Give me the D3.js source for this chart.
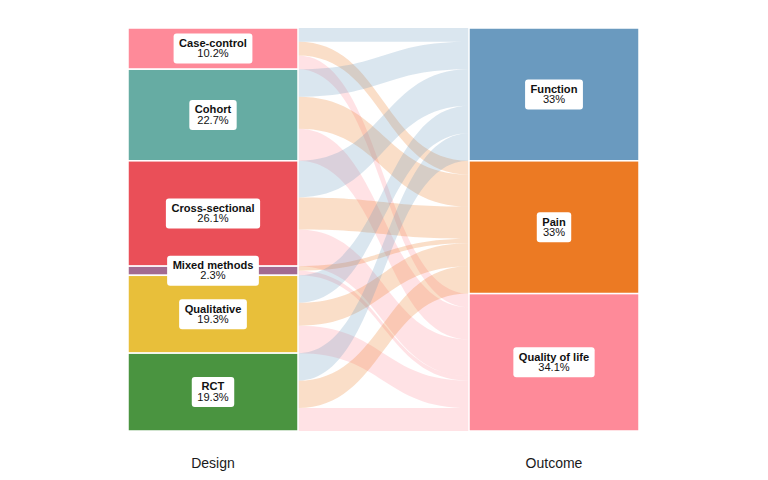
<!DOCTYPE html>
<html>
<head>
<meta charset="utf-8">
<script src="https://cdn.jsdelivr.net/npm/d3@7"></script>
<style>
  body { margin: 0; background: #fff; }
  text { font-family: "Liberation Sans", Arial, Helvetica, sans-serif; }
</style>
</head>
<body>
<div id="chart"></div>
<script>
// axes of the alluvium
var axisNames = ["Design", "Outcome"]
// strata on the left axis
var designs = ["Case-control", "Cohort", "Cross-sectional", "Mixed methods", "Qualitative", "RCT"]
// strata on the right axis
var outcomes = ["Function", "Pain", "Quality of life"]
// number of studies: rows = design, columns = outcome
var countsFunction = [3, 6, 8, 0, 6, 6]
var countsPain     = [3, 7, 7, 1, 5, 6]
var countsQol      = [3, 7, 8, 1, 6, 5]

var designColors  = ["#fe8a99", "#66aca3", "#ea4f58", "#a26a91", "#e8bf3a", "#4a9440"]
var outcomeColors = ["#6a9abf", "#ec7a23", "#fe8a99"]

var W = 768, H = 480
var margin = { top: 28, bottom: 49 }

var svg = d3.select("#chart").append("svg")
    .attr("width", W)
    .attr("height", H)

// build flow table from the arrays
var seriesCounts = [countsFunction, countsPain, countsQol]
var flows = []
designs.forEach(function (d, i) {
    outcomes.forEach(function (o, j) {
        flows.push({ design: d, di: i, outcome: o, oi: j, n: seriesCounts[j][i] })
    })
})
var total = d3.sum(flows, function (f) { return f.n })

var x = d3.scalePoint()
    .domain(axisNames)
    .range([213, 554])
var half = 85

var y = d3.scaleLinear()
    .domain([0, total])
    .range([margin.top, H - margin.bottom])

// left side: design strata, flows inside ordered by outcome
var leftStrata = [], cum = 0
designs.forEach(function (d, i) {
    var start = cum
    flows.filter(function (f) { return f.di == i }).forEach(function (f) {
        f.l0 = cum; cum += f.n; f.l1 = cum
    })
    leftStrata.push({ name: d, y0: start, y1: cum, color: designColors[i] })
})

// right side: outcome strata, flows inside ordered by design
var rightStrata = []
cum = 0
outcomes.forEach(function (o, j) {
    var start = cum
    flows.filter(function (f) { return f.oi == j }).forEach(function (f) {
        f.r0 = cum; cum += f.n; f.r1 = cum
    })
    rightStrata.push({ name: o, y0: start, y1: cum, color: outcomeColors[j] })
})

var xl = x("Design") + half, xr = x("Outcome") - half
function flowPath(f) {
    var xm = (xl + xr) / 2
    var a0 = y(f.l0), a1 = y(f.l1), b0 = y(f.r0), b1 = y(f.r1)
    return "M" + xl + "," + a0 +
        "C" + xm + "," + a0 + " " + xm + "," + b0 + " " + xr + "," + b0 +
        "L" + xr + "," + b1 +
        "C" + xm + "," + b1 + " " + xm + "," + a1 + " " + xl + "," + a1 + "Z"
}

svg.append("g")
    .selectAll("path")
    .data(flows.filter(function (f) { return f.n > 0 }))
    .join("path")
    .attr("d", flowPath)
    .attr("fill", function (f) { return outcomeColors[f.oi] })
    .attr("fill-opacity", 0.25)

function drawStrata(data, axisName) {
    var g = svg.append("g")
    g.selectAll("rect")
        .data(data)
        .join("rect")
        .attr("x", x(axisName) - half)
        .attr("y", function (d) { return y(d.y0) })
        .attr("width", half * 2)
        .attr("height", function (d) { return y(d.y1) - y(d.y0) })
        .attr("fill", function (d) { return d.color })
        .attr("stroke", "#fff")
        .attr("stroke-width", 1.5)
}
drawStrata(leftStrata, "Design")
drawStrata(rightStrata, "Outcome")

function fmtPct(v) { return (+(v * 100 / total).toFixed(1)) + "%" }

function drawLabels(data, axisName) {
    var lab = svg.append("g").selectAll("g")
        .data(data)
        .join("g")
        .attr("transform", function (d) {
            return "translate(" + x(axisName) + "," + ((y(d.y0) + y(d.y1)) / 2) + ")"
        })
    var box = lab.append("rect")
        .attr("fill", "#fff")
        .attr("rx", 3)
    lab.append("text")
        .attr("text-anchor", "middle")
        .attr("y", -1.6)
        .style("font-size", "11.1px")
        .style("font-weight", "bold")
        .style("fill", "#111")
        .text(function (d) { return d.name })
    lab.append("text")
        .attr("text-anchor", "middle")
        .attr("y", 8.7)
        .style("font-size", "11.1px")
        .style("fill", "#111")
        .text(function (d) { return fmtPct(d.y1 - d.y0) })
    box.each(function () {
        var p = d3.select(this.parentNode)
        var w = d3.max(p.selectAll("text").nodes(), function (n) { return n.getComputedTextLength() })
        d3.select(this)
            .attr("x", -w / 2 - 5.5)
            .attr("y", -15)
            .attr("width", w + 11)
            .attr("height", 30)
    })
}
drawLabels(leftStrata, "Design")
drawLabels(rightStrata, "Outcome")

// axis labels
svg.append("g")
    .selectAll("text")
    .data(axisNames)
    .join("text")
    .attr("x", function (d) { return x(d) })
    .attr("y", 468)
    .attr("text-anchor", "middle")
    .style("font-size", "14px")
    .style("fill", "#1a1a1a")
    .text(function (d) { return d })
</script>
</body>
</html>
